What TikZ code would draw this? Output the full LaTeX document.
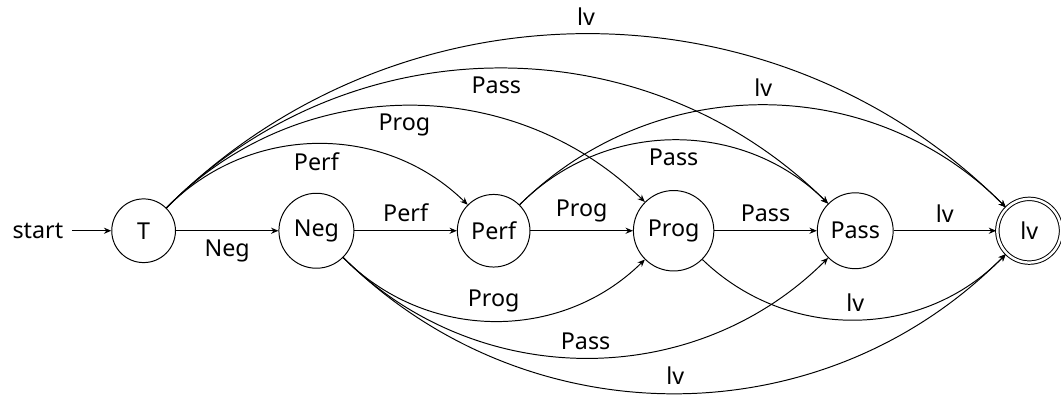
\documentclass[tikz,border=0pt]{standalone}
\usepackage{fontspec}
\setmainfont{Noto Sans}
\usetikzlibrary{automata,positioning,arrows.meta}

\begin{document}
\begin{tikzpicture}[->, >={Stealth[length=3pt,width=2.5pt]}, auto, node distance=1.47cm,
    font=\fontsize{9.5}{11.5}\selectfont,
    every state/.style={draw, inner sep=3.7pt, minimum size=26pt},
    accepting by double/.append style={double distance=1pt},
    initial text=start]
    \useasboundingbox (-2.06,-2.35) rectangle (13.16,3.31);

    % States
    \node[state, initial] (T) {T};
    \node[state, right=of T] (Neg) {Neg};
    \node[state, right=of Neg] (Perf) {Perf};
    \node[state, right=of Perf] (Prog) {Prog};
    \node[state, right=of Prog] (Pass) {Pass};
    \node[state, accepting, right=of Pass] (lv) {lv};

    % Straight transitions
    \path (T) edge node[swap] {Neg} (Neg)
          (Neg) edge node {Perf} (Perf)
          (Perf) edge node {Prog} (Prog)
          (Prog) edge node {Pass} (Pass)
          (Pass) edge node {lv} (lv);

    % Arcs above
    \path[bend left=45]
          (T) edge node[swap] {Perf} (Perf)
          (T) edge node[swap] {Prog} (Prog)
          (T) edge node[swap] {Pass} (Pass)
          (T) edge node {lv} (lv)
          (Perf) edge node[swap] {Pass} (Pass)
          (Perf) edge node {lv} (lv);

    % Arcs below
    \path[bend right=45]
          (Neg) edge node {Prog} (Prog)
          (Neg) edge node {Pass} (Pass)
          (Neg) edge node {lv} (lv)
          (Prog) edge node {lv} (lv);
\end{tikzpicture}
\end{document}
